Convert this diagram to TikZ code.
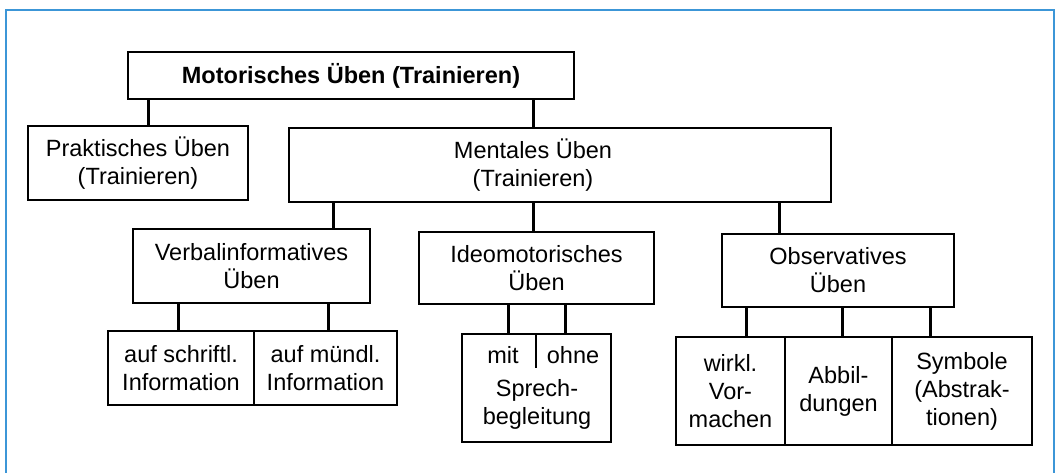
\documentclass[tikz,border=0pt]{standalone}
\usepackage{fontspec}
\setmainfont{Liberation Sans}
\usepackage{xcolor}
\usepackage{tikz}
\usetikzlibrary{positioning,calc}

\definecolor{frameblue}{RGB}{60,150,215}

\tikzset{
    box/.style={draw, line width=1.8pt, inner sep=0pt, align=center,
        font=\fontsize{23.5}{28}\selectfont},
    lbl/.style={inner sep=0pt, align=center, font=\fontsize{23.5}{28}\selectfont},
    link/.style={line width=3pt},
}

\begin{document}
\begin{tikzpicture}[x=1pt, y=-1pt]
    \path[use as bounding box] (0,0) rectangle (1057,473);

    % Frame
    \draw[frameblue, line width=1.5pt] (6,473) -- (6,10) -- (1054,10) -- (1054,473);

    % Top levels
    \node[box, minimum width=446, minimum height=47] (top) at (351,75.5) {\bfseries Motorisches Üben (Trainieren)};
    \node[box, minimum width=220, minimum height=74] (prak) at (138,163) {Praktisches Üben\\(Trainieren)};
    \node[box, minimum width=542, minimum height=74] (ment) at (560,165) {};
    \node[lbl] (mentlbl) at (533,165) {Mentales Üben\\(Trainieren)};

    \draw[link] (top.south -| 148,0) -- (prak.north -| 148,0);
    \draw[link] (top.south -| 533,0) -- (ment.north -| 533,0);

    % Kinds of mental practice
    \node[box, minimum width=237, minimum height=74] (verb) at (251.5,266) {Verbalinformatives\\Üben};
    \node[box, minimum width=235, minimum height=72] (ideo) at (536.5,268) {Ideomotorisches\\Üben};
    \node[box, minimum width=232, minimum height=73] (obs) at (838,270.5) {Observatives\\Üben};

    \foreach \x/\n in {333/verb, 533/ideo, 779/obs}
        \draw[link] (ment.south -| \x,0) -- (\n.north -| \x,0);

    % Verbal
    \node[box, minimum width=146, minimum height=74] (schr) at (181,368) {auf schriftl.\\Information};
    \node[box, minimum width=143, minimum height=74] (mund) at (325.5,368) {auf mündl.\\Information};
    \foreach \x/\n in {178/schr, 328/mund}
        \draw[link] (verb.south -| \x,0) -- (\n.north -| \x,0);

    % Ideomotor
    \node[box, minimum width=149, minimum height=108] (spr) at (536.5,388) {};
    \draw[line width=1.8pt] (spr.north -| 536,0) -- (536,368);
    \node[lbl] (mit) at (503,355) {mit};
    \node[lbl] (ohne) at (573,355) {ohne};
    \node[lbl] (sprlbl) at (537,404) {Sprech-\\begleitung};
    \foreach \x in {508, 565}
        \draw[link] (ideo.south -| \x,0) -- (spr.north -| \x,0);

    % Observational
    \node[box, minimum width=109, minimum height=108] (wirk) at (730.5,391) {wirkl.\\Vor-\\machen};
    \node[box, minimum width=107, minimum height=108] (abb) at (838.5,391) {Abbil-\\dungen};
    \node[box, minimum width=140, minimum height=108] (sym) at (962,391) {Symbole\\(Abstrak-\\tionen)};
    \foreach \x/\n in {746/wirk, 842/abb, 930/sym}
        \draw[link] (obs.south -| \x,0) -- (\n.north -| \x,0);

\end{tikzpicture}
\end{document}
